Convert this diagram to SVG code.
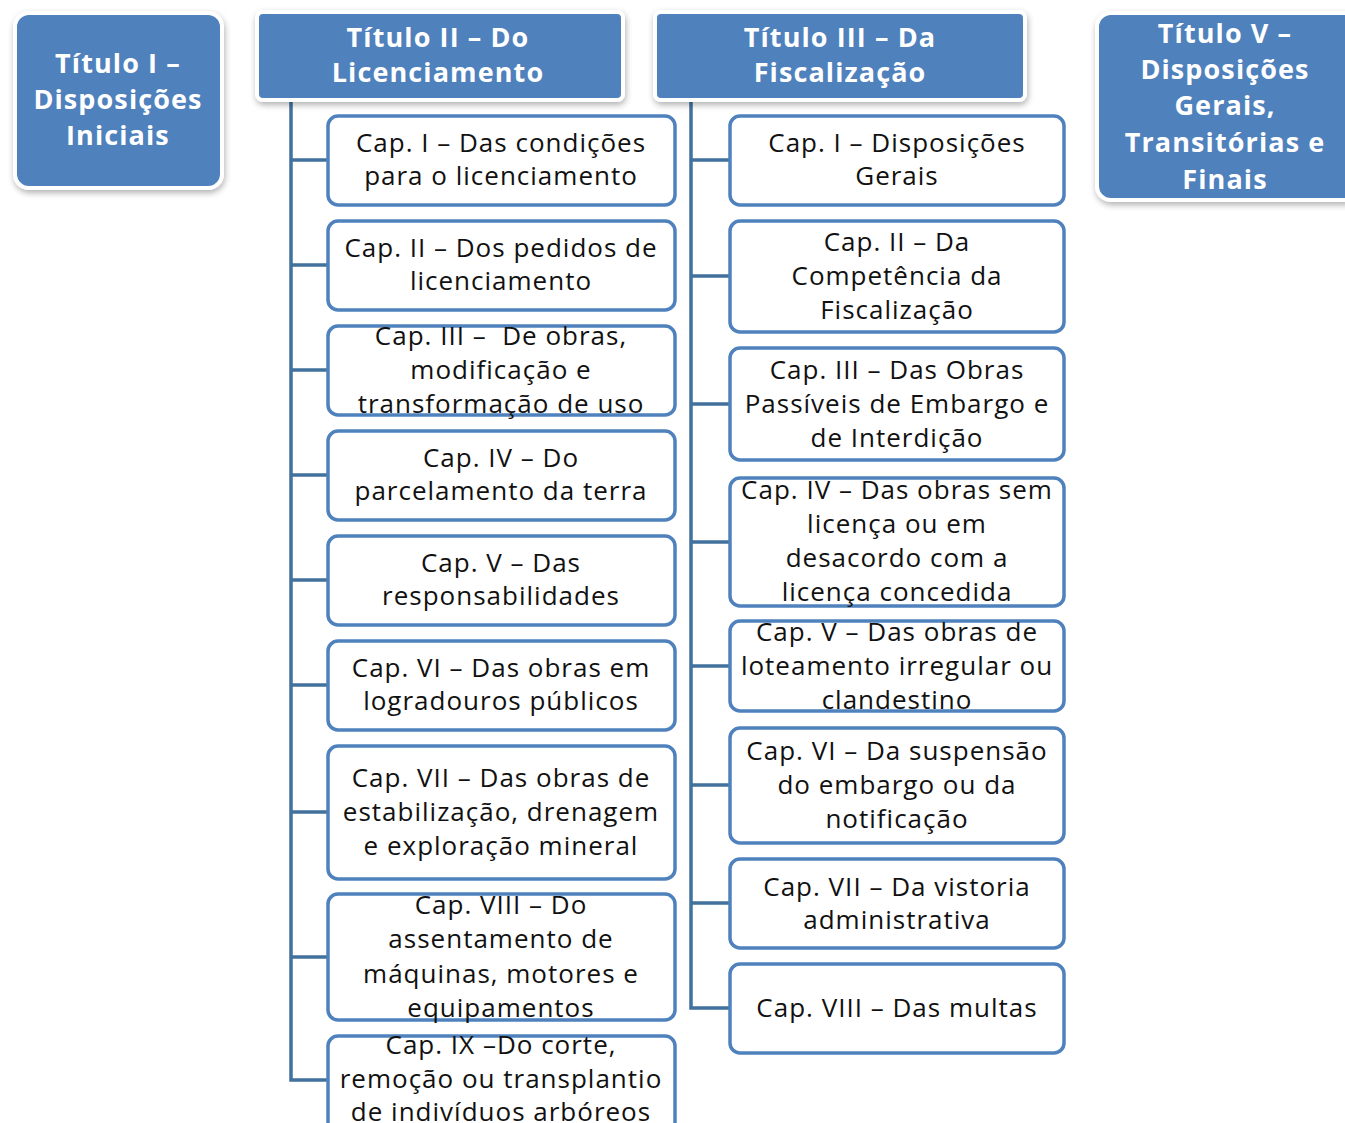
<svg xmlns="http://www.w3.org/2000/svg" width="1345" height="1123" viewBox="0 0 1345 1123">
<defs>
<filter id="sh" x="-10%" y="-10%" width="130%" height="130%">
<feDropShadow dx="1" dy="3" stdDeviation="3" flood-color="#000" flood-opacity="0.3"/>
</filter>
<style>
.t{fill:#4f81bd;stroke:#fff;stroke-width:4;filter:url(#sh)}
.tt{font-family:"Open Sans",Lato,"Liberation Sans",sans-serif;font-weight:bold;font-size:27px;letter-spacing:1.1px;fill:#fff;text-anchor:middle}
.c{fill:#fff;stroke:#4f81bd;stroke-width:3.5}
.ct{font-family:"Open Sans",Lato,"Liberation Sans",sans-serif;font-size:26px;letter-spacing:1px;fill:#111;text-anchor:middle}
.ln{fill:none;stroke:#41719c;stroke-width:3.5}
</style>
</defs>
<rect width="1345" height="1123" fill="#fff"/>
<g id="connectors">
<path class="ln" d="M291,100 V1080 H327 M291,160 H327 M291,265 H327 M291,370 H327 M291,475 H327 M291,580 H327 M291,685 H327 M291,812 H327 M291,957 H327"/>
<path class="ln" d="M691,100 V1008 H729 M691,160 H729 M691,276 H729 M691,404 H729 M691,542 H729 M691,666 H729 M691,785 H729 M691,903 H729"/>
</g>
<g id="t1"><rect class="t" x="15" y="13" width="207" height="175" rx="14"/>
<text class="tt"><tspan x="118" y="73">Título I –</tspan><tspan x="118" y="109">Disposições</tspan><tspan x="118" y="145">Iniciais</tspan></text></g>
<g id="t2"><rect class="t" x="257" y="12" width="366" height="88" rx="6"/>
<text class="tt"><tspan x="438" y="47">Título II – Do</tspan><tspan x="438" y="82">Licenciamento</tspan></text></g>
<g id="t3"><rect class="t" x="655" y="12" width="370" height="88" rx="6"/>
<text class="tt"><tspan x="840" y="47">Título III – Da</tspan><tspan x="840" y="82">Fiscalização</tspan></text></g>
<g id="t5"><rect class="t" x="1097" y="13" width="262" height="187" rx="14"/>
<text class="tt"><tspan x="1225" y="43">Título V –</tspan><tspan x="1225" y="79">Disposições</tspan><tspan x="1225" y="115">Gerais,</tspan><tspan x="1225" y="152">Transitórias e</tspan><tspan x="1225" y="189">Finais</tspan></text></g>

<g id="l1"><rect class="c" x="328" y="116" width="347" height="89" rx="10"/>
<text class="ct"><tspan x="501" y="152">Cap. I – Das condições</tspan><tspan x="501" y="185">para o licenciamento</tspan></text></g>
<g id="l2"><rect class="c" x="328" y="221" width="347" height="89" rx="10"/>
<text class="ct"><tspan x="501" y="257">Cap. II – Dos pedidos de</tspan><tspan x="501" y="290">licenciamento</tspan></text></g>
<g id="l3"><rect class="c" x="328" y="326" width="347" height="89" rx="10"/>
<text class="ct" xml:space="preserve"><tspan x="501" y="345">Cap. III –  De obras,</tspan><tspan x="501" y="379">modificação e</tspan><tspan x="501" y="413">transformação de uso</tspan></text></g>
<g id="l4"><rect class="c" x="328" y="431" width="347" height="89" rx="10"/>
<text class="ct"><tspan x="501" y="467">Cap. IV – Do</tspan><tspan x="501" y="500">parcelamento da terra</tspan></text></g>
<g id="l5"><rect class="c" x="328" y="536" width="347" height="89" rx="10"/>
<text class="ct"><tspan x="501" y="572">Cap. V – Das</tspan><tspan x="501" y="605">responsabilidades</tspan></text></g>
<g id="l6"><rect class="c" x="328" y="641" width="347" height="89" rx="10"/>
<text class="ct"><tspan x="501" y="677">Cap. VI – Das obras em</tspan><tspan x="501" y="710">logradouros públicos</tspan></text></g>
<g id="l7"><rect class="c" x="328" y="746" width="347" height="133" rx="10"/>
<text class="ct"><tspan x="501" y="787">Cap. VII – Das obras de</tspan><tspan x="501" y="821">estabilização, drenagem</tspan><tspan x="501" y="855">e exploração mineral</tspan></text></g>
<g id="l8"><rect class="c" x="328" y="894" width="347" height="126" rx="10"/>
<text class="ct"><tspan x="501" y="914">Cap. VIII – Do</tspan><tspan x="501" y="948">assentamento de</tspan><tspan x="501" y="983">máquinas, motores e</tspan><tspan x="501" y="1017">equipamentos</tspan></text></g>
<g id="l9"><rect class="c" x="328" y="1036" width="347" height="100" rx="10"/>
<text class="ct"><tspan x="501" y="1054">Cap. IX –Do corte,</tspan><tspan x="501" y="1088">remoção ou transplantio</tspan><tspan x="501" y="1121">de indivíduos arbóreos</tspan></text></g>

<g id="r1"><rect class="c" x="730" y="116" width="334" height="89" rx="10"/>
<text class="ct"><tspan x="897" y="152">Cap. I – Disposições</tspan><tspan x="897" y="185">Gerais</tspan></text></g>
<g id="r2"><rect class="c" x="730" y="221" width="334" height="111" rx="10"/>
<text class="ct"><tspan x="897" y="251">Cap. II – Da</tspan><tspan x="897" y="285">Competência da</tspan><tspan x="897" y="319">Fiscalização</tspan></text></g>
<g id="r3"><rect class="c" x="730" y="348" width="334" height="112" rx="10"/>
<text class="ct"><tspan x="897" y="379">Cap. III – Das Obras</tspan><tspan x="897" y="413">Passíveis de Embargo e</tspan><tspan x="897" y="447">de Interdição</tspan></text></g>
<g id="r4"><rect class="c" x="730" y="478" width="334" height="128" rx="10"/>
<text class="ct"><tspan x="897" y="499">Cap. IV – Das obras sem</tspan><tspan x="897" y="533">licença ou em</tspan><tspan x="897" y="567">desacordo com a</tspan><tspan x="897" y="601">licença concedida</tspan></text></g>
<g id="r5"><rect class="c" x="730" y="621" width="334" height="90" rx="10"/>
<text class="ct"><tspan x="897" y="641">Cap. V – Das obras de</tspan><tspan x="897" y="675">loteamento irregular ou</tspan><tspan x="897" y="709">clandestino</tspan></text></g>
<g id="r6"><rect class="c" x="730" y="728" width="334" height="115" rx="10"/>
<text class="ct"><tspan x="897" y="760">Cap. VI – Da suspensão</tspan><tspan x="897" y="794">do embargo ou da</tspan><tspan x="897" y="828">notificação</tspan></text></g>
<g id="r7"><rect class="c" x="730" y="859" width="334" height="89" rx="10"/>
<text class="ct"><tspan x="897" y="896">Cap. VII – Da vistoria</tspan><tspan x="897" y="929">administrativa</tspan></text></g>
<g id="r8"><rect class="c" x="730" y="964" width="334" height="89" rx="10"/>
<text class="ct"><tspan x="897" y="1017">Cap. VIII – Das multas</tspan></text></g>
</svg>
